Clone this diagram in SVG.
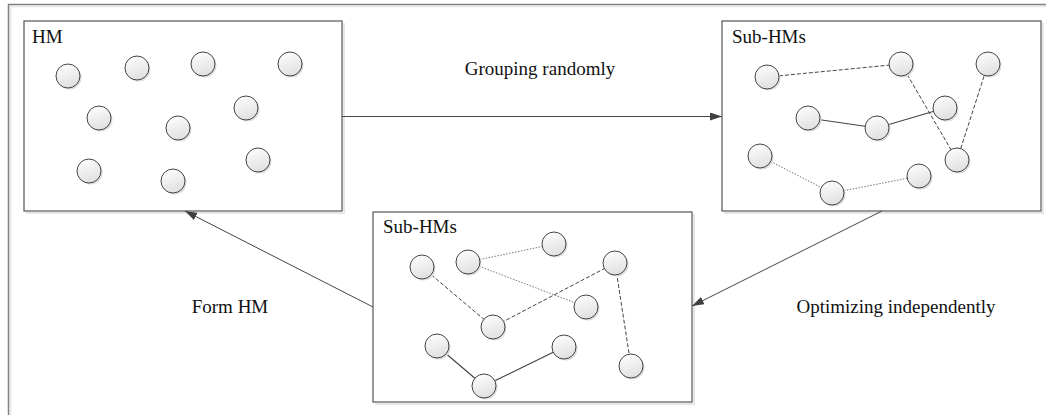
<svg xmlns="http://www.w3.org/2000/svg" width="1046" height="415" viewBox="0 0 1046 415">
<defs>
<linearGradient id="g" x1="0" y1="0" x2="0.3" y2="1">
<stop offset="0" stop-color="#ffffff"/>
<stop offset="1" stop-color="#e2e2e2"/>
</linearGradient>
<marker id="arr" viewBox="0 0 12 8" refX="12" refY="4" markerWidth="12" markerHeight="8" markerUnits="userSpaceOnUse" orient="auto">
<path d="M0,0 L12,4 L0,8 Z" fill="#404040"/>
</marker>
<style>
.box{fill:#fff;stroke:#555;stroke-width:1.2}
.sh{fill:none;stroke:#e6e6e6;stroke-width:2}
.c{fill:url(#g);stroke:#444;stroke-width:1}
.cs{fill:#dcdcdc}
.t{font-family:"Liberation Serif","Times New Roman",serif;font-size:19px;fill:#111}
.conn{stroke:#444;stroke-width:1;fill:none}
.solid{stroke:#444;stroke-width:1.2;fill:none}
.dash{stroke:#444;stroke-width:1;stroke-dasharray:4,2;fill:none}
.dot{stroke:#777;stroke-width:1;stroke-dasharray:1.5,1.5;fill:none}
</style>
</defs>
<rect width="1046" height="415" fill="#fff"/>
<g id="frame">
<path d="M10.5,415 V6.5 H1046" fill="none" stroke="#e8e8e8" stroke-width="1.5"/>
<path d="M8.5,415 V4.5 H1046" fill="none" stroke="#808080" stroke-width="1.5"/>
</g>

<g id="hm">
<path class="sh" d="M344,23 V213 H26"/>
<rect class="box" x="24" y="21" width="318" height="190"/>
<text class="t" x="32" y="43">HM</text>
<g>
<circle class="cs" cx="69.5" cy="77.5" r="12"/><circle class="c" cx="68" cy="76" r="12"/>
<circle class="cs" cx="138.5" cy="69.5" r="12"/><circle class="c" cx="137" cy="68" r="12"/>
<circle class="cs" cx="204.5" cy="65.5" r="12"/><circle class="c" cx="203" cy="64" r="12"/>
<circle class="cs" cx="291.5" cy="65.5" r="12"/><circle class="c" cx="290" cy="64" r="12"/>
<circle class="cs" cx="100.5" cy="119.5" r="12"/><circle class="c" cx="99" cy="118" r="12"/>
<circle class="cs" cx="179.5" cy="129.5" r="12"/><circle class="c" cx="178" cy="128" r="12"/>
<circle class="cs" cx="247.5" cy="109.5" r="12"/><circle class="c" cx="246" cy="108" r="12"/>
<circle class="cs" cx="90.5" cy="172.5" r="12"/><circle class="c" cx="89" cy="171" r="12"/>
<circle class="cs" cx="174.5" cy="182.5" r="12"/><circle class="c" cx="173" cy="181" r="12"/>
<circle class="cs" cx="259.5" cy="161.5" r="12"/><circle class="c" cx="258" cy="160" r="12"/>
</g>
</g>

<g id="subhms-right">
<path class="sh" d="M1043,23 V213 H724"/>
<rect class="box" x="722" y="21" width="319" height="190"/>
<text class="t" x="732" y="43">Sub-HMs</text>
<path class="dash" d="M767,77 L901,64"/>
<path class="dash" d="M901,64 L957,160"/>
<path class="dash" d="M957,160 L988,64"/>
<path class="solid" d="M808,118 L877,128 L945,108"/>
<path class="dot" d="M760,156 L832,193 L919,176"/>
<circle class="cs" cx="768.5" cy="78.5" r="12"/><circle class="c" cx="767" cy="77" r="12"/>
<circle class="cs" cx="902.5" cy="65.5" r="12"/><circle class="c" cx="901" cy="64" r="12"/>
<circle class="cs" cx="989.5" cy="65.5" r="12"/><circle class="c" cx="988" cy="64" r="12"/>
<circle class="cs" cx="809.5" cy="119.5" r="12"/><circle class="c" cx="808" cy="118" r="12"/>
<circle class="cs" cx="878.5" cy="129.5" r="12"/><circle class="c" cx="877" cy="128" r="12"/>
<circle class="cs" cx="946.5" cy="109.5" r="12"/><circle class="c" cx="945" cy="108" r="12"/>
<circle class="cs" cx="761.5" cy="157.5" r="12"/><circle class="c" cx="760" cy="156" r="12"/>
<circle class="cs" cx="958.5" cy="161.5" r="12"/><circle class="c" cx="957" cy="160" r="12"/>
<circle class="cs" cx="833.5" cy="194.5" r="12"/><circle class="c" cx="832" cy="193" r="12"/>
<circle class="cs" cx="920.5" cy="177.5" r="12"/><circle class="c" cx="919" cy="176" r="12"/>
</g>

<g id="subhms-bottom">
<path class="sh" d="M694,214 V404 H375"/>
<rect class="box" x="373" y="212" width="319" height="190"/>
<text class="t" x="383" y="233">Sub-HMs</text>
<path class="dash" d="M422,267 L493,327 L615,263 L631,366"/>
<path class="dot" d="M468,262 L554,244"/>
<path class="dot" d="M468,262 L586,307"/>
<path class="solid" d="M437,346 L484,386 L564,347"/>
<circle class="cs" cx="423.5" cy="268.5" r="12"/><circle class="c" cx="422" cy="267" r="12"/>
<circle class="cs" cx="469.5" cy="263.5" r="12"/><circle class="c" cx="468" cy="262" r="12"/>
<circle class="cs" cx="555.5" cy="245.5" r="12"/><circle class="c" cx="554" cy="244" r="12"/>
<circle class="cs" cx="616.5" cy="264.5" r="12"/><circle class="c" cx="615" cy="263" r="12"/>
<circle class="cs" cx="587.5" cy="308.5" r="12"/><circle class="c" cx="586" cy="307" r="12"/>
<circle class="cs" cx="494.5" cy="328.5" r="12"/><circle class="c" cx="493" cy="327" r="12"/>
<circle class="cs" cx="438.5" cy="347.5" r="12"/><circle class="c" cx="437" cy="346" r="12"/>
<circle class="cs" cx="565.5" cy="348.5" r="12"/><circle class="c" cx="564" cy="347" r="12"/>
<circle class="cs" cx="485.5" cy="387.5" r="12"/><circle class="c" cx="484" cy="386" r="12"/>
<circle class="cs" cx="632.5" cy="367.5" r="12"/><circle class="c" cx="631" cy="366" r="12"/>
</g>

<g id="connectors">
<path class="conn" d="M342,116.5 L722,116.5" marker-end="url(#arr)"/>
<path class="conn" d="M882,211 L692,306" marker-end="url(#arr)"/>
<path class="conn" d="M373,307 L185,211" marker-end="url(#arr)"/>
<text class="t" x="540" y="75" text-anchor="middle">Grouping randomly</text>
<text class="t" x="896" y="313" text-anchor="middle">Optimizing independently</text>
<text class="t" x="230" y="313" text-anchor="middle">Form HM</text>
</g>
</svg>
